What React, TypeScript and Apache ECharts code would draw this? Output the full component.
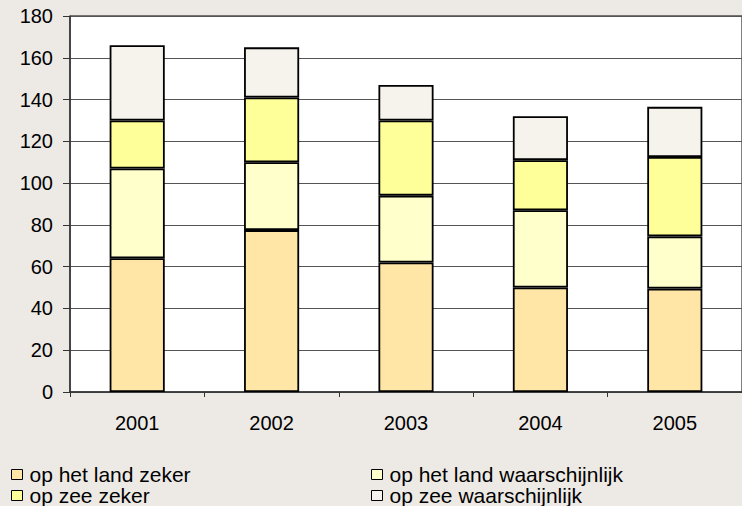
import React, { useEffect, useRef } from "react";
import * as echarts from "echarts";

const years = ["2001", "2002", "2003", "2004", "2005"];
const landZeker = [64, 77.5, 62, 50, 49.5];
const landWaarschijnlijk = [43, 32.5, 32, 37, 25];
const zeeZeker = [23, 31, 36, 24, 38];
const zeeWaarschijnlijk = [36, 24, 17, 21, 24];

const seriesNames = [
  "op het land zeker",
  "op het land waarschijnlijk",
  "op zee zeker",
  "op zee waarschijnlijk",
];
const seriesColors = ["#FFE5A6", "#FFFFCC", "#FFFF99", "#F6F2EC"];

export default function App() {
  const ref = useRef<HTMLDivElement>(null);
  useEffect(() => {
    if (!ref.current) return;
    const chart = echarts.init(ref.current, null, { renderer: "svg" });
    const font = "'Liberation Sans', Arial, sans-serif";
    const data = [landZeker, landWaarschijnlijk, zeeZeker, zeeWaarschijnlijk];
    const legendBase = {
      orient: "vertical" as const,
      padding: 0,
      itemGap: 0,
      itemWidth: 11,
      itemHeight: 10,
      icon: "rect",
      itemStyle: { borderColor: "#000", borderWidth: 1 },
      textStyle: {
        fontFamily: font,
        fontSize: 21,
        color: "#000",
        lineHeight: 20,
        padding: [0, 0, 0, 2],
      },
    };
    chart.setOption({
      animation: false,
      backgroundColor: "#EDEAE5",
      textStyle: { fontFamily: font },
      grid: {
        left: 70,
        top: 16,
        width: 677,
        bottom: 114,
        show: true,
        backgroundColor: "#ffffff",
        borderColor: "#000",
        borderWidth: 1,
      },
      legend: [
        { ...legendBase, left: 11, top: 464, data: [seriesNames[0], seriesNames[2]] },
        { ...legendBase, left: 371, top: 464, data: [seriesNames[1], seriesNames[3]] },
      ],
      xAxis: {
        type: "category",
        data: years,
        axisLine: { show: true, lineStyle: { color: "#333", width: 1.5 } },
        axisTick: { show: true, length: 5, lineStyle: { color: "#333" } },
        axisLabel: { color: "#000", fontSize: 20, margin: 21, fontFamily: font },
      },
      yAxis: {
        type: "value",
        min: 0,
        max: 180,
        interval: 20,
        axisLine: { show: true, lineStyle: { color: "#333", width: 1.5 } },
        axisTick: { show: true, length: 7, lineStyle: { color: "#333" } },
        axisLabel: { color: "#000", fontSize: 20, margin: 17, fontFamily: font },
        splitLine: { show: true, lineStyle: { color: "#555", width: 1 } },
      },
      series: data.map((d, i) => ({
        name: seriesNames[i],
        type: "bar",
        stack: "total",
        barWidth: "41%",
        data: d,
        itemStyle: { color: seriesColors[i], borderColor: "#000", borderWidth: 1.8 },
      })),
    });
    return () => chart.dispose();
  }, []);
  return (
    <div
      ref={ref}
      style={{ position: "fixed", left: 0, top: 0, width: 742, height: 506 }}
    />
  );
}
